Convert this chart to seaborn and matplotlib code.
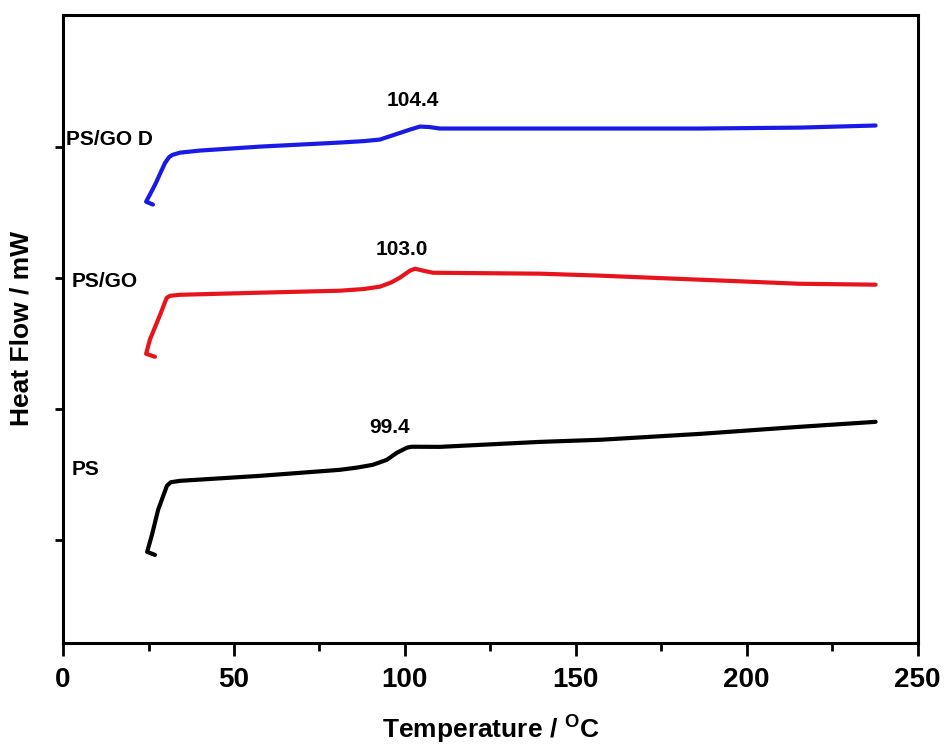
import numpy as np
import pandas as pd
import matplotlib
matplotlib.use("Agg")
from matplotlib import pyplot as plt
import seaborn as sns

# temperatures (C) and heat flow (arbitrary units, shifted per sample)
temp_ps = [26.9, 24.6, 26.0, 27.8, 30.4, 31.5, 34.2, 57.6, 81.0, 86.0, 90.6, 94.7, 97.6,
           100.6, 102.0, 110.2, 139.5, 157.0, 186.3, 215.5, 237.7]
flow_ps = [0.672, 0.695, 0.824, 1.015, 1.200, 1.226, 1.237, 1.275, 1.321, 1.338, 1.359,
           1.397, 1.450, 1.490, 1.497, 1.496, 1.534, 1.550, 1.595, 1.649, 1.687]

temp_go = [26.9, 24.3, 25.4, 28.4, 30.3, 31.3, 34.2, 57.6, 81.0, 88.0, 92.7, 96.0, 98.5,
           101.5, 103.0, 105.3, 108.2, 139.5, 157.0, 186.3, 215.5, 237.7]
flow_go = [2.183, 2.206, 2.313, 2.504, 2.632, 2.648, 2.656, 2.672, 2.687, 2.700, 2.718,
           2.750, 2.786, 2.840, 2.855, 2.840, 2.824, 2.817, 2.802, 2.771, 2.740, 2.733]

temp_god = [26.3, 24.3, 25.4, 27.0, 28.4, 29.8, 31.0, 31.9, 34.2, 40.1, 57.6, 81.0, 88.0,
            92.7, 97.1, 101.5, 104.4, 107.3, 110.2, 127.8, 157.0, 186.3, 215.5, 237.7]
flow_god = [3.344, 3.366, 3.420, 3.500, 3.580, 3.660, 3.705, 3.722, 3.740, 3.756, 3.786,
            3.817, 3.828, 3.840, 3.878, 3.916, 3.939, 3.935, 3.924, 3.924, 3.924, 3.924,
            3.931, 3.947]

names = ["PS", "PS/GO", "PS/GO D"]
colors = ["black", "#e8141b", "#1a1ae6"]
peak_labels = ["99.4", "103.0", "104.4"]
peak_pos = [(95.6, 1.641), (99.1, 3.0), (102.3, 4.137)]
name_pos = [(2.6, 1.321), (2.6, 2.756), (0.9, 3.84)]

sns.set_style("ticks", {"axes.edgecolor": "black", "text.color": "black",
                        "axes.labelcolor": "black", "xtick.color": "black",
                        "ytick.color": "black"})
plt.rcParams["font.family"] = ["Liberation Sans", "DejaVu Sans"]
plt.rcParams["font.weight"] = "bold"
plt.rcParams["mathtext.fontset"] = "custom"
plt.rcParams["mathtext.bf"] = "Liberation Sans:bold"
plt.rcParams["mathtext.rm"] = "Liberation Sans:bold"

fig = plt.figure(figsize=(9.48, 7.49), dpi=100)
ax = fig.add_axes([0.0665, 0.1415, 0.9015, 0.8385])

series = [(temp_ps, flow_ps), (temp_go, flow_go), (temp_god, flow_god)]
for (t, f), c in zip(series, colors):
    sns.lineplot(x=t, y=f, sort=False, estimator=None, color=c, linewidth=3.0, ax=ax)

for lab, (x, y) in zip(names, name_pos):
    ax.text(x, y, lab, fontsize=15, fontweight="bold", ha="left", va="center")
for lab, (x, y) in zip(peak_labels, peak_pos):
    ax.text(x, y, lab, fontsize=15, fontweight="bold", ha="center", va="center")

ax.set_xlim(0, 250)
ax.set_ylim(0, 4.79)
ax.set_xticks(np.arange(0, 251, 50))
ax.set_xticks(np.arange(25, 250, 50), minor=True)
ax.set_yticks([0.786, 1.786, 2.786, 3.786])
ax.set_yticklabels([])
ax.tick_params(axis="x", which="major", length=9, width=2, labelsize=20, pad=8)
ax.tick_params(axis="x", which="minor", length=6, width=2)
ax.tick_params(axis="y", which="major", length=6, width=2)
for lbl in ax.get_xticklabels():
    lbl.set_fontweight("bold")
for s in ax.spines.values():
    s.set_linewidth(2.2)

ax.set_xlabel(r"Temperature / $^{\mathbf{O}}$C", fontsize=19, fontweight="bold", labelpad=14)
ax.set_ylabel("Heat Flow / mW", fontsize=19, fontweight="bold", labelpad=12)

fig.savefig("out.png", dpi=100)
